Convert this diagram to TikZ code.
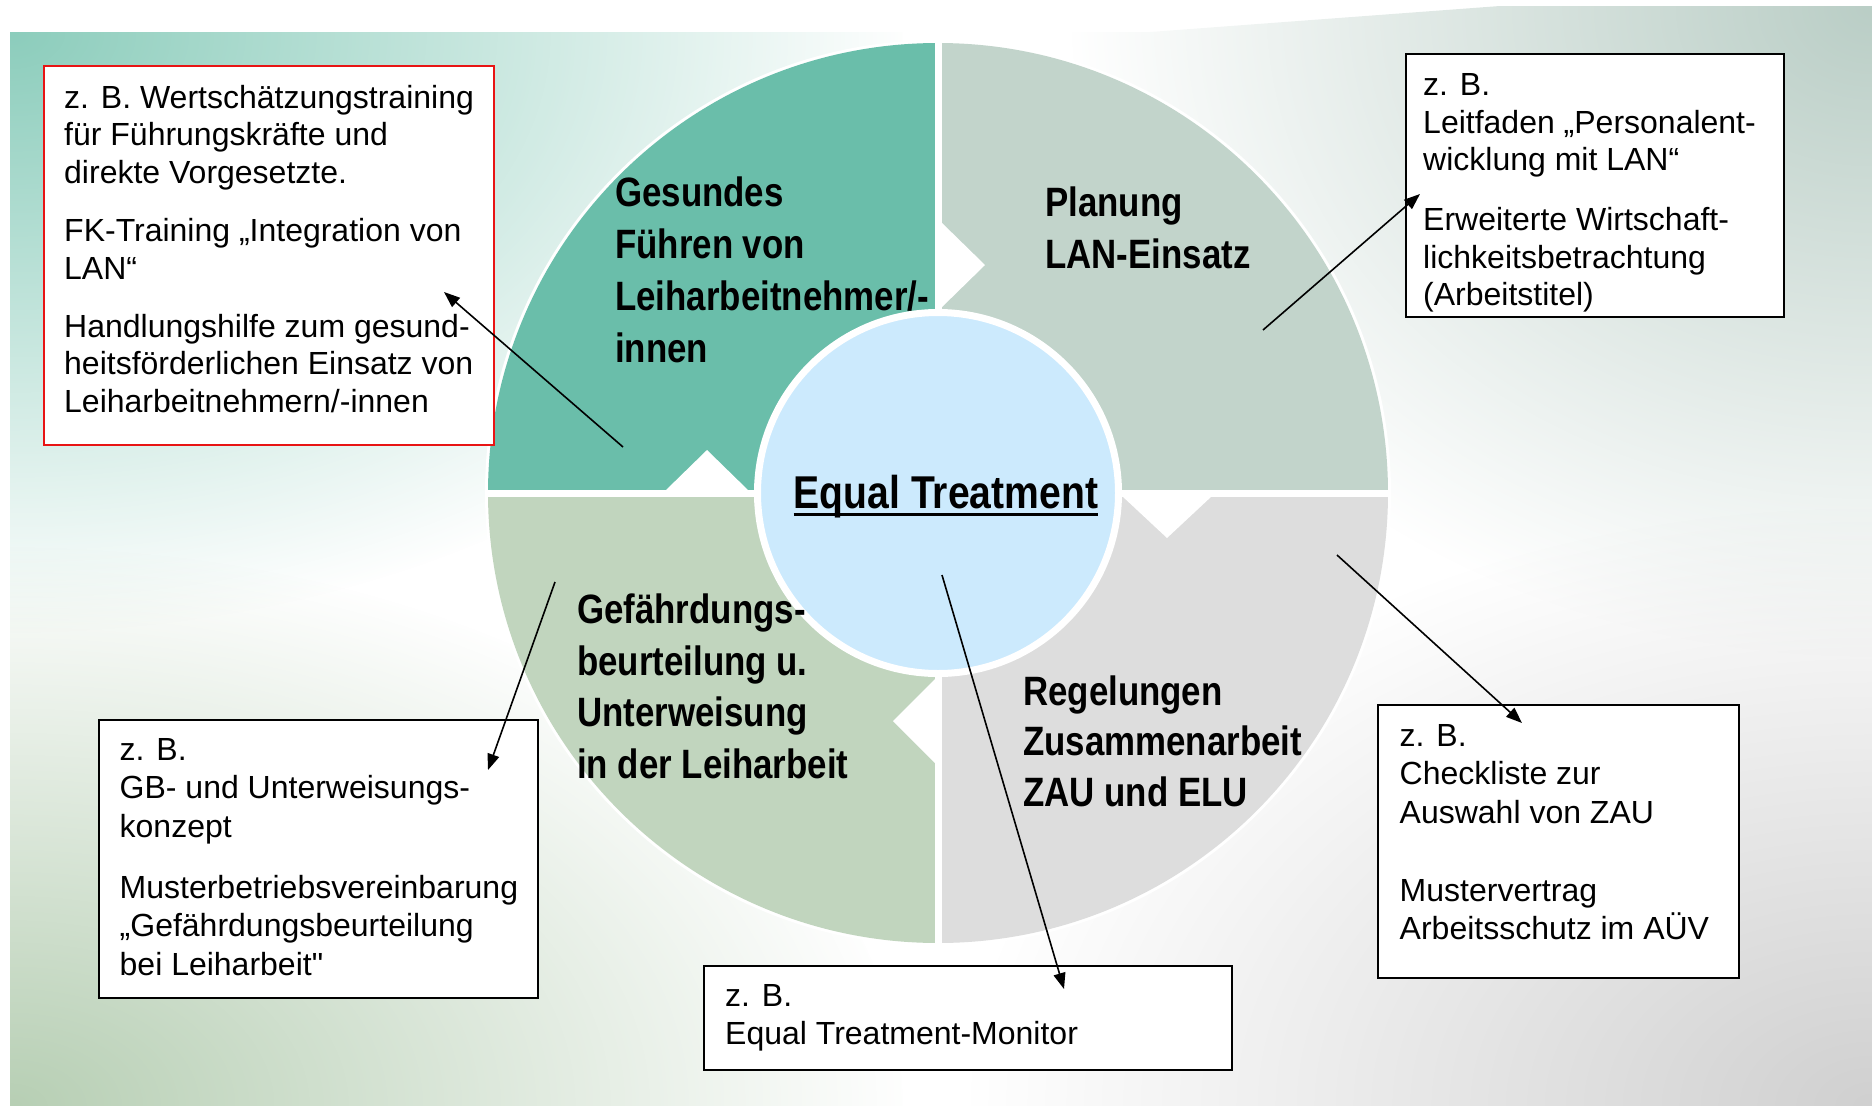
\documentclass[tikz,border=0pt]{standalone}
\usepackage{fontspec}
\setmainfont{Liberation Sans}
\newfontfamily\narrowfont[FakeStretch=0.85]{Liberation Sans}
\usetikzlibrary{arrows.meta,fadings}

\definecolor{tlq}{RGB}{106,190,170}
\definecolor{trq}{RGB}{194,212,203}
\definecolor{blq}{RGB}{193,213,190}
\definecolor{brq}{RGB}{221,221,221}
\definecolor{etblue}{RGB}{204,234,253}
\definecolor{bgTL}{RGB}{140,205,188}
\definecolor{bgTR}{RGB}{186,206,198}
\definecolor{bgBL}{RGB}{183,207,180}
\definecolor{bgBR}{RGB}{208,208,208}
\definecolor{boxred}{RGB}{232,20,20}

\tikzfading[name=cornerfade, inner color=transparent!0, outer color=transparent!100]

\newcommand{\straightquote}{{\addfontfeature{Ligatures=TeXOff}"}}

\tikzset{
  infobox/.style={draw=black, line width=2pt, fill=white, anchor=north west, inner sep=0pt},
  boxtext/.style={anchor=north west, inner sep=0pt, align=left, font={\fontsize{32}{38}\selectfont}},
  qlabel/.style={anchor=north west, inner sep=0pt, align=left, font={\narrowfont\bfseries\fontsize{41}{51.7}\selectfont}},
  conn/.style={line width=1.6pt, -{Triangle[length=16pt,width=12pt]}},
  notch/.style={fill=white},
}

\begin{document}
\begin{tikzpicture}[x=1pt,y=-1pt]
\useasboundingbox (0,0) rectangle (1872,1106);

% background
\begin{scope}
  \clip (10,1106) -- (10,32) -- (1150,32) -- (1500,6) -- (1872,6) -- (1872,1106) -- cycle;
  \fill[white] (0,0) rectangle (1872,1106);
  \fill[bgTL, path fading=cornerfade] (10,32) ellipse [x radius=900pt, y radius=600pt];
  \fill[bgTR, path fading=cornerfade] (1872,6) ellipse [x radius=800pt, y radius=650pt];
  \fill[bgBL, path fading=cornerfade] (10,1106) ellipse [x radius=900pt, y radius=560pt];
  \fill[bgBR, path fading=cornerfade] (1872,1106) ellipse [x radius=900pt, y radius=600pt];
\end{scope}

% wheel
\fill[white] (938,493) circle (453pt);
\begin{scope}
  \clip (938,493) circle (450pt);
  \fill[tlq] (480,35) rectangle (935,490);
  \fill[trq] (941.5,35) rectangle (1396,490);
  \fill[blq] (480,496.5) rectangle (935,950);
  \fill[brq] (941.5,496.5) rectangle (1396,950);
\end{scope}
% notches
\fill[notch] (665,491) -- (707,450) -- (749,491) -- cycle;
\fill[notch] (941,222) -- (985,265) -- (941,308) -- cycle;
\fill[notch] (1122,496) -- (1167,538) -- (1212,496) -- cycle;
\fill[notch] (936,678) -- (893,721) -- (936,764) -- cycle;

% centre
\node[circle, fill=etblue, draw=white, line width=7pt, minimum size=361pt, inner sep=0pt] (core) at (938,493) {};
\node[anchor=base, inner sep=0pt, font={\narrowfont\bfseries\fontsize{46}{50}\selectfont}] (etxt) at (946,508) {Equal Treatment};
\draw[line width=3pt] ([yshift=-6pt]etxt.base west) -- ([yshift=-6pt]etxt.base east);

% quadrant labels
\node[qlabel] (qtl) at (615,168.7) {\rule{0pt}{38pt}Gesundes\\ Führen von\\ Leiharbeitnehmer/-\\ innen};
\node[qlabel] (qtr) at (1045,178.7) {\rule{0pt}{38pt}Planung\\ LAN-Einsatz};
\node[qlabel] (qbl) at (577,585.3) {\rule{0pt}{38pt}Gefährdungs-\\ beurteilung u.\\ Unterweisung\\ in der Leiharbeit};
\node[qlabel, font={\narrowfont\bfseries\fontsize{41}{50.5}\selectfont}] (qbr) at (1023,667) {\rule{0pt}{38pt}Regelungen\\ Zusammenarbeit\\ ZAU und ELU};

% boxes
\node[infobox, draw=boxred, minimum width=450pt, minimum height=379pt] (boxA) at (43,65) {};
\node[boxtext, font={\fontsize{32}{37.6}\selectfont}] (tA) at (64,78) {\rule{0pt}{30pt}z. B. Wertschätzungstraining\\ für Führungskräfte und\\ direkte Vorgesetzte.\\[20.5pt] FK-Training „Integration von\\ LAN“\\[20.5pt] Handlungshilfe zum gesund-\\ heitsförderlichen Einsatz von\\ Leiharbeitnehmern/-innen};

\node[infobox, minimum width=378pt, minimum height=263pt] (boxB) at (1405,53) {};
\node[boxtext, font={\fontsize{32}{37.6}\selectfont}] (tB) at (1423,65.5) {\rule{0pt}{30pt}z. B.\\ Leitfaden „Personalent-\\ wicklung mit LAN“\\[22pt] Erweiterte Wirtschaft-\\ lichkeitsbetrachtung\\ (Arbeitstitel)};

\node[infobox, minimum width=439pt, minimum height=278pt] (boxC) at (98,719) {};
\node[boxtext, font={\fontsize{32}{38.6}\selectfont}] (tC) at (119.5,730) {\rule{0pt}{30pt}z. B.\\ GB- und Unterweisungs-\\ konzept\\[22pt] Musterbetriebsvereinbarung\\ „Gefährdungsbeurteilung\\ bei Leiharbeit\straightquote};

\node[infobox, minimum width=528pt, minimum height=104pt] (boxD) at (703,965) {};
\node[boxtext] (tD) at (725,976.5) {\rule{0pt}{30pt}z. B.\\ Equal Treatment-Monitor};

\node[infobox, minimum width=361pt, minimum height=273pt] (boxE) at (1377,704) {};
\node[boxtext, font={\fontsize{32}{38.4}\selectfont}] (tE) at (1399.5,716) {\rule{0pt}{30pt}z. B.\\ Checkliste zur\\ Auswahl von ZAU\\[40pt] Mustervertrag\\ Arbeitsschutz im AÜV};

% connectors
\coordinate (s1) at (623,447); \coordinate (e1) at (444,292);
\coordinate (s2) at (1263,330); \coordinate (e2) at (1420,194);
\coordinate (s3) at (1337,555); \coordinate (e3) at (1522,723);
\coordinate (s4) at (942,575); \coordinate (e4) at (1064,989);
\coordinate (s5) at (555,582); \coordinate (e5) at (488,770);
\draw[conn] (s1) -- (e1);
\draw[conn] (s2) -- (e2);
\draw[conn] (s3) -- (e3);
\draw[conn] (s4) -- (e4);
\draw[conn] (s5) -- (e5);
\end{tikzpicture}
\end{document}
